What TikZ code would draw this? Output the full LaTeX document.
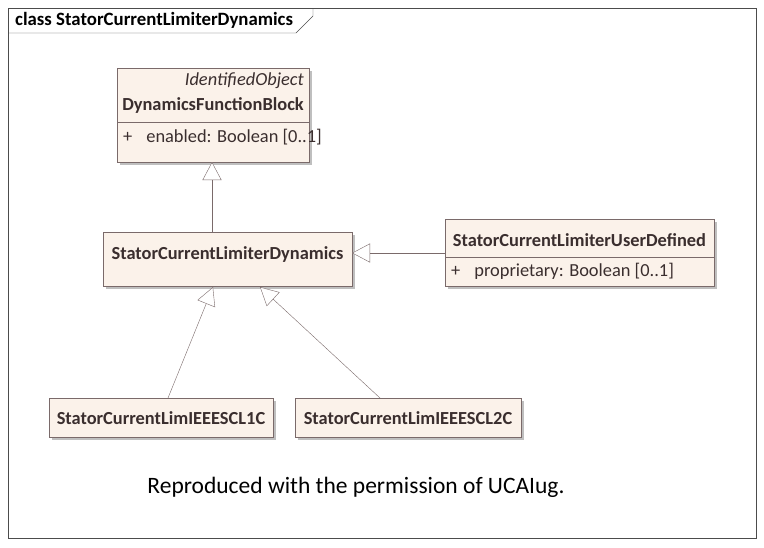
\documentclass[tikz,border=0pt]{standalone}
\usepackage{fontspec}
\setmainfont{Carlito}
\usetikzlibrary{arrows.meta}
\definecolor{tx}{HTML}{3A2E2E}
\definecolor{bx}{HTML}{FBF2EA}
\definecolor{ln}{HTML}{7A6A6A}
\tikzset{
 cls/.style={draw=ln, fill=bx},
 shd/.style={fill=black!25, draw=none},
 gen/.style={draw=ln, -{Triangle[open,length=18pt,width=19pt,fill=white]}},
 lbl/.style={inner sep=0pt, text=tx, font=\fontsize{18.4}{20}\selectfont},
 bl/.style={lbl, font=\fontsize{18.4}{20}\selectfont\bfseries},
}
\begin{document}
\begin{tikzpicture}[x=1pt,y=-1pt]
\useasboundingbox (0,0) rectangle (764,547);
\fill[white] (0,0) rectangle (764,547);
\draw[black!70] (8,8) rectangle (756,538);
\draw[black!70] (8,33) -- (296,33) -- (313,16) -- (313,8);
\node[lbl, anchor=west, text=black, font=\fontsize{18.8}{20}\selectfont\bfseries] (title) at (15,20) {class StatorCurrentLimiterDynamics};
% shadows
\foreach \a/\b/\c/\d in {117/68/309/162, 103/232/352/286, 445/219/714/286, 49/398/273/437, 295/398/521/437}
  \fill[shd] (\a+3,\b+3) rectangle (\c+3,\d+3);
% DynamicsFunctionBlock
\draw[cls] (117,68) rectangle (309,162);
\node[minimum width=192pt, minimum height=94pt, inner sep=0pt] (dfb) at (213,115) {};
\draw[ln] (117,122) -- (309,122);
\node[lbl, anchor=east, font=\fontsize{18.4}{20}\selectfont\itshape] (io) at (304,81) {IdentifiedObject};
\node[bl] (dfbn) at (213,105) {DynamicsFunctionBlock};
\node[lbl, anchor=west] (dfba) at (123,137) {+\hspace{14pt}enabled: Boolean [0..1]};
% SCLD
\draw[cls] (103,232) rectangle (352,286);
\node[minimum width=249pt, minimum height=54pt, inner sep=0pt] (scld) at (227.5,259) {};
\node[bl] (scldn) at (227.5,254) {StatorCurrentLimiterDynamics};
% UserDefined
\draw[cls] (445,219) rectangle (714,286);
\node[minimum width=269pt, minimum height=67pt, inner sep=0pt] (ud) at (579.5,252.5) {};
\draw[ln] (445,257) -- (714,257);
\node[bl] (udn) at (579.5,240) {StatorCurrentLimiterUserDefined};
\node[lbl, anchor=west] (uda) at (451,271) {+\hspace{14pt}proprietary: Boolean [0..1]};
% bottom
\draw[cls] (49,398) rectangle (273,437);
\node[bl] (c1) at (161,418) {StatorCurrentLimIEEESCL1C};
\draw[cls] (295,398) rectangle (521,437);
\node[bl] (c2) at (408,418) {StatorCurrentLimIEEESCL2C};
\coordinate (p1) at (168,398); \coordinate (q1) at (213,287);
\coordinate (p2) at (380,398); \coordinate (q2) at (260,287);
\coordinate (p0) at (212,232); \coordinate (q0) at (212,162);
\coordinate (p3) at (445,253); \coordinate (q3) at (352,253);
\draw[gen] (p0) -- (q0);
\draw[gen] (p3) -- (q3);
\draw[gen] (p1) -- (q1);
\draw[gen] (p2) -- (q2);
\node[lbl, text=black, font=\fontsize{23.5}{26}\selectfont] (rep) at (356,487) {Reproduced with the permission of UCAIug.};
\end{tikzpicture}
\end{document}
